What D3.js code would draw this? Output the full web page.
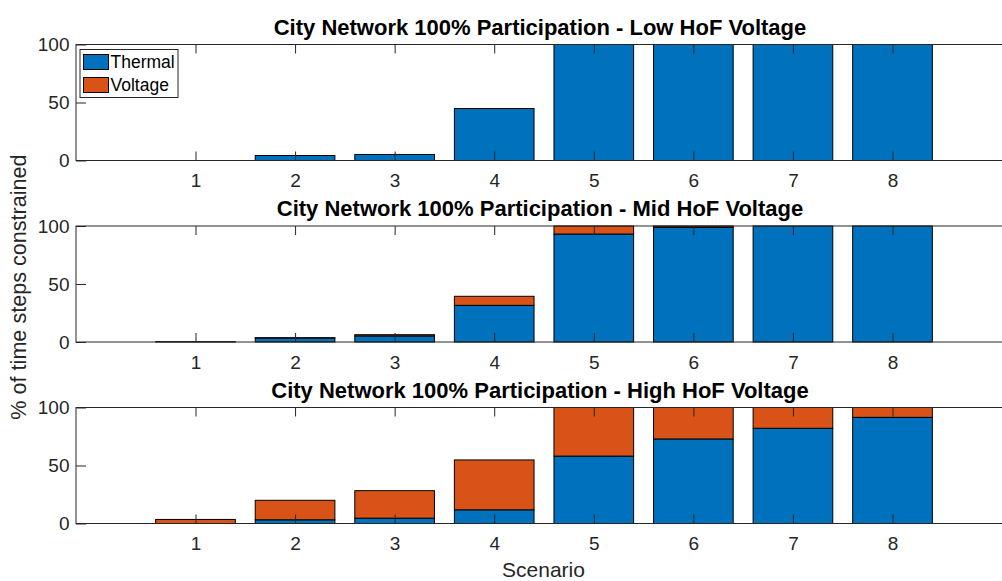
<!DOCTYPE html>
<html><head><meta charset="utf-8">
<script src="https://cdn.jsdelivr.net/npm/d3@7"></script>
<style>html,body{margin:0;padding:0;background:#fff;}svg{display:block;font-family:"Liberation Sans",Arial,sans-serif;}</style>
</head><body>
<svg id="c" width="1002" height="581"></svg>
<script>
const scenarios = [1,2,3,4,5,6,7,8];
const seriesNames = ["Thermal","Voltage"];
const titles = [
  "City Network 100% Participation - Low HoF Voltage",
  "City Network 100% Participation - Mid HoF Voltage",
  "City Network 100% Participation - High HoF Voltage"
];
const lowThermal  = [0, 4.3, 5.2, 44.8, 100, 100, 100, 100];
const lowVoltage  = [0, 0, 0, 0, 0, 0, 0, 0];
const midThermal  = [0.3, 3.4, 5.2, 31.6, 93.1, 98.9, 100, 100];
const midVoltage  = [0, 0.3, 1.1, 7.8, 6.9, 1.1, 0, 0];
const highThermal = [0, 3.2, 4.6, 11.8, 58.1, 72.9, 82.1, 91.5];
const highVoltage = [3.5, 16.8, 23.7, 43.0, 41.9, 27.1, 17.9, 8.5];
const yTicks = [0, 50, 100];
const xLabel = "Scenario";
const yLabel = "% of time steps constrained";

const panels = [
  {title: titles[0], thermal: lowThermal, voltage: lowVoltage, top: 44.5},
  {title: titles[1], thermal: midThermal, voltage: midVoltage, top: 226},
  {title: titles[2], thermal: highThermal, voltage: highVoltage, top: 407.5}
];
const colors = ["#0072BD", "#D95319"];
const axCol = "#262626";
const left = 76, right = 1012, ph = 116;
const svg = d3.select("#c");
const x = d3.scaleLinear().domain([-0.2, 9.2]).range([left, right]);
const bw = (x(1) - x(0)) * 0.8;

panels.forEach((p, pi) => {
  const y = d3.scaleLinear().domain([0, 100]).range([p.top + ph, p.top]);
  const g = svg.append("g");
  const rows = scenarios.map((s, i) => ({s, Thermal: p.thermal[i], Voltage: p.voltage[i]}));
  const stack = d3.stack().keys(seriesNames)(rows);
  stack.forEach((layer, li) => {
    g.selectAll(null).data(layer).enter().append("rect")
      .attr("x", d => x(d.data.s) - bw/2)
      .attr("width", bw)
      .attr("y", d => y(d[1]))
      .attr("height", d => Math.max(0, y(d[0]) - y(d[1])))
      .attr("fill", colors[li])
      .attr("stroke", "#000")
      .attr("stroke-width", 1);
  });
  g.append("rect").attr("x", left).attr("y", p.top).attr("width", right - left).attr("height", ph)
    .attr("fill", "none").attr("stroke", axCol).attr("stroke-width", 1);
  const xa = d3.axisBottom(x).tickValues(scenarios).tickSizeInner(-9).tickSizeOuter(0).tickPadding(12);
  const xg = g.append("g").attr("transform", `translate(0,${p.top + ph})`).call(xa);
  xg.select(".domain").remove();
  xg.selectAll("line").attr("stroke", axCol);
  xg.selectAll("text").attr("fill", axCol).style("font-size", "19px").attr("y", 26.5).attr("dy", 0);
  const xt = d3.axisTop(x).tickValues(scenarios).tickSizeInner(-9).tickSizeOuter(0).tickFormat("");
  const xtg = g.append("g").attr("transform", `translate(0,${p.top})`).call(xt);
  xtg.select(".domain").remove();
  xtg.selectAll("line").attr("stroke", axCol);
  const ya = d3.axisLeft(y).tickValues(yTicks).tickSizeInner(-10).tickSizeOuter(0).tickPadding(7);
  const yg = g.append("g").attr("transform", `translate(${left},0)`).call(ya);
  yg.select(".domain").remove();
  yg.selectAll("line").attr("stroke", axCol);
  yg.selectAll("text").attr("fill", axCol).style("font-size", "19px").attr("x", -6.5);
  g.append("text").attr("x", (left + right) / 2 - 4).attr("y", p.top - 10)
    .attr("text-anchor", "middle").style("font-size", "22px").style("font-weight", "bold")
    .attr("fill", "#000").text(p.title);
});

svg.append("text").attr("x", (left + right) / 2 - 0.5).attr("y", 577)
  .attr("text-anchor", "middle").style("font-size", "21px").attr("fill", axCol).text(xLabel);
svg.append("text").attr("transform", `translate(26,287) rotate(-90)`)
  .attr("text-anchor", "middle").style("font-size", "21.6px").attr("fill", axCol).text(yLabel);

const lg = svg.append("g");
lg.append("rect").attr("x", 80).attr("y", 49.5).attr("width", 98).attr("height", 48)
  .attr("fill", "#fff").attr("stroke", axCol).attr("stroke-width", 1);
seriesNames.forEach((n, i) => {
  lg.append("rect").attr("x", 83.5).attr("y", 54.5 + i * 23).attr("width", 25).attr("height", 15)
    .attr("fill", colors[i]).attr("stroke", "#000").attr("stroke-width", 1);
  lg.append("text").attr("x", 110.5).attr("y", 68 + i * 23).style("font-size", "17.5px")
    .attr("fill", "#000").text(n);
});
</script>
</body></html>
